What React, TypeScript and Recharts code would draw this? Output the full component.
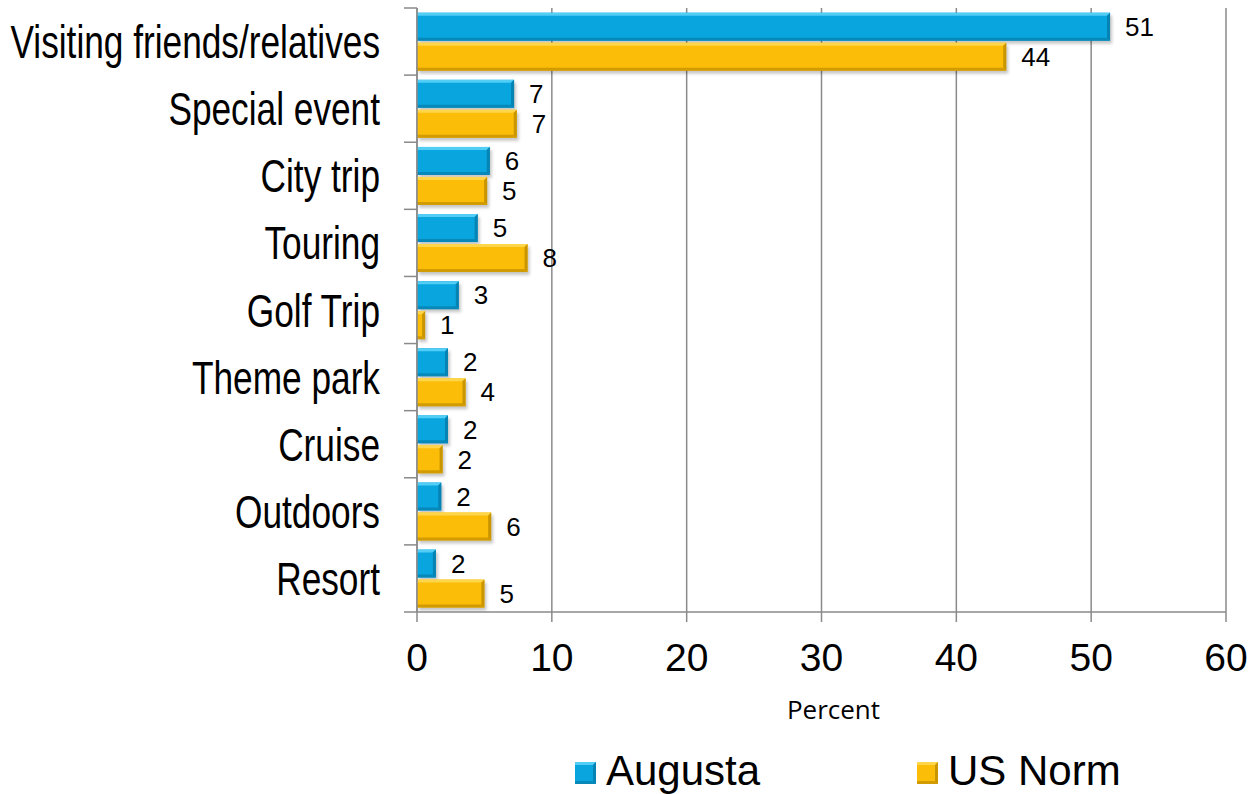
import React from 'react';
import { BarChart, Bar, XAxis, YAxis, CartesianGrid, LabelList } from 'recharts';

const categories = [
  'Visiting friends/relatives',
  'Special event',
  'City trip',
  'Touring',
  'Golf Trip',
  'Theme park',
  'Cruise',
  'Outdoors',
  'Resort',
];
const augustaValues = [51.4, 7.2, 5.4, 4.5, 3.1, 2.3, 2.3, 1.8, 1.4];
const usNormValues = [43.7, 7.4, 5.2, 8.2, 0.6, 3.6, 1.9, 5.5, 5.0];
const augustaLabels = ['51', '7', '6', '5', '3', '2', '2', '2', '2'];
const usNormLabels = ['44', '7', '5', '8', '1', '4', '2', '6', '5'];
const xTicks = [0, 10, 20, 30, 40, 50, 60];
const seriesNames = ['Augusta', 'US Norm'];

const data = categories.map((category, i) => ({
  category,
  augusta: augustaValues[i],
  usNorm: usNormValues[i],
  augustaLabel: augustaLabels[i],
  usNormLabel: usNormLabels[i],
}));

const FONT = '"Liberation Sans", Arial, sans-serif';
const AXIS = '#8a8a8a';
const BLUE = { face: '#08A5DF', light: '#52CDF5', dark: '#0682B3' };
const GOLD = { face: '#FBBD08', light: '#FFD64A', dark: '#C99500' };

const BevelBar = (props: any) => {
  const { x, y, width, height, face, light, dark } = props;
  if (!width || width <= 0 || !height) return null;
  const b = Math.min(3, width / 2, height / 2);
  return (
    <g>
      <rect x={x + 2} y={y + 3} width={width} height={height} fill="rgba(0,0,0,0.22)" filter="url(#barShadow)" />
      <rect x={x} y={y} width={width} height={height} fill={face} />
      <polygon points={`${x},${y} ${x + width},${y} ${x + width - b},${y + b} ${x},${y + b}`} fill={light} />
      <polygon
        points={`${x + width},${y} ${x + width},${y + height} ${x + width - b},${y + height - b} ${x + width - b},${y + b}`}
        fill={dark}
      />
      <polygon
        points={`${x},${y + height} ${x + width},${y + height} ${x + width - b},${y + height - b} ${x},${y + height - b}`}
        fill={dark}
        opacity={0.85}
      />
    </g>
  );
};

const CategoryTick = (props: any) => {
  const { x, y, payload, index } = props;
  const half = payload && payload.offset ? payload.offset : 0;
  const last = index === categories.length - 1;
  return (
    <g>
      <line x1={x - 13} x2={x} y1={y - half} y2={y - half} stroke={AXIS} strokeWidth={1.5} />
      {last && <line x1={x - 13} x2={x} y1={y + half} y2={y + half} stroke={AXIS} strokeWidth={1.5} />}
      <text
        transform={`translate(${x - 37}, ${y + 16.5}) scale(0.75, 1)`}
        textAnchor="end"
        fontSize={47}
        fontFamily={FONT}
        fill="#000"
      >
        {payload.value}
      </text>
    </g>
  );
};

const NumberTick = (props: any) => {
  const { x, y, payload } = props;
  return (
    <text x={x} y={y} dy="0.71em" textAnchor="middle" fontSize={39} fontFamily={FONT} fill="#000">
      {payload.value}
    </text>
  );
};

const Swatch = ({ x, c }: { x: number; c: { face: string; light: string; dark: string } }) => (
  <g>
    <rect x={x} y={22} width={21} height={22} fill={c.face} />
    <polygon points={`${x},22 ${x + 21},22 ${x + 18},25 ${x},25`} fill={c.light} />
    <polygon points={`${x + 21},22 ${x + 21},44 ${x + 18},41 ${x + 18},25`} fill={c.dark} />
    <polygon points={`${x},44 ${x + 21},44 ${x + 18},41 ${x},41`} fill={c.dark} opacity={0.85} />
  </g>
);

const legendItems = [
  { name: seriesNames[0], color: BLUE, left: 575 },
  { name: seriesNames[1], color: GOLD, left: 917 },
];

export default function App() {
  return (
    <div style={{ position: 'absolute', left: 0, top: 0, width: 1251, height: 794, background: '#fff' }}>
      <BarChart
        width={1251}
        height={794}
        data={data}
        layout="vertical"
        margin={{ top: 8, right: 25, bottom: 72, left: 0 }}
        barCategoryGap="7%"
        barGap={2}
      >
        <defs>
          <filter id="barShadow" x="-10%" y="-30%" width="130%" height="160%">
            <feGaussianBlur stdDeviation="1.5" />
          </filter>
        </defs>
        <CartesianGrid horizontal={false} stroke={AXIS} strokeWidth={1.5} />
        <XAxis
          type="number"
          domain={[0, 60]}
          ticks={xTicks}
          interval={0}
          height={110}
          stroke={AXIS}
          strokeWidth={1.5}
          tickSize={10}
          tickMargin={21}
          tick={<NumberTick />}
          label={{
            value: 'Percent',
            position: 'insideBottom',
            offset: 3,
            dx: 12,
            fontSize: 26,
            fontFamily: '"Open Sans", sans-serif',
            fill: '#000',
          }}
        />
        <YAxis
          type="category"
          dataKey="category"
          width={417}
          stroke={AXIS}
          strokeWidth={1.5}
          tickLine={false}
          tickSize={0}
          tickMargin={0}
          interval={0}
          tick={<CategoryTick />}
        />
        <Bar
          dataKey="augusta"
          name={seriesNames[0]}
          isAnimationActive={false}
          fill={BLUE.face}
          shape={(p: any) => <BevelBar {...p} {...BLUE} />}
        >
          <LabelList dataKey="augustaLabel" position="right" offset={15} fontSize={26} fontFamily={FONT} fill="#000" />
        </Bar>
        <Bar
          dataKey="usNorm"
          name={seriesNames[1]}
          isAnimationActive={false}
          fill={GOLD.face}
          shape={(p: any) => <BevelBar {...p} {...GOLD} />}
        >
          <LabelList dataKey="usNormLabel" position="right" offset={15} fontSize={26} fontFamily={FONT} fill="#000" />
        </Bar>
      </BarChart>
      <svg width={1251} height={54} style={{ position: 'absolute', left: 0, top: 740, overflow: 'visible' }}>
        {legendItems.map((item) => (
          <g key={item.name}>
            <Swatch x={item.left} c={item.color} />
            <text x={item.left + 31} y={45} fontSize={42} fontFamily={FONT} fill="#000">
              {item.name}
            </text>
          </g>
        ))}
      </svg>
    </div>
  );
}
